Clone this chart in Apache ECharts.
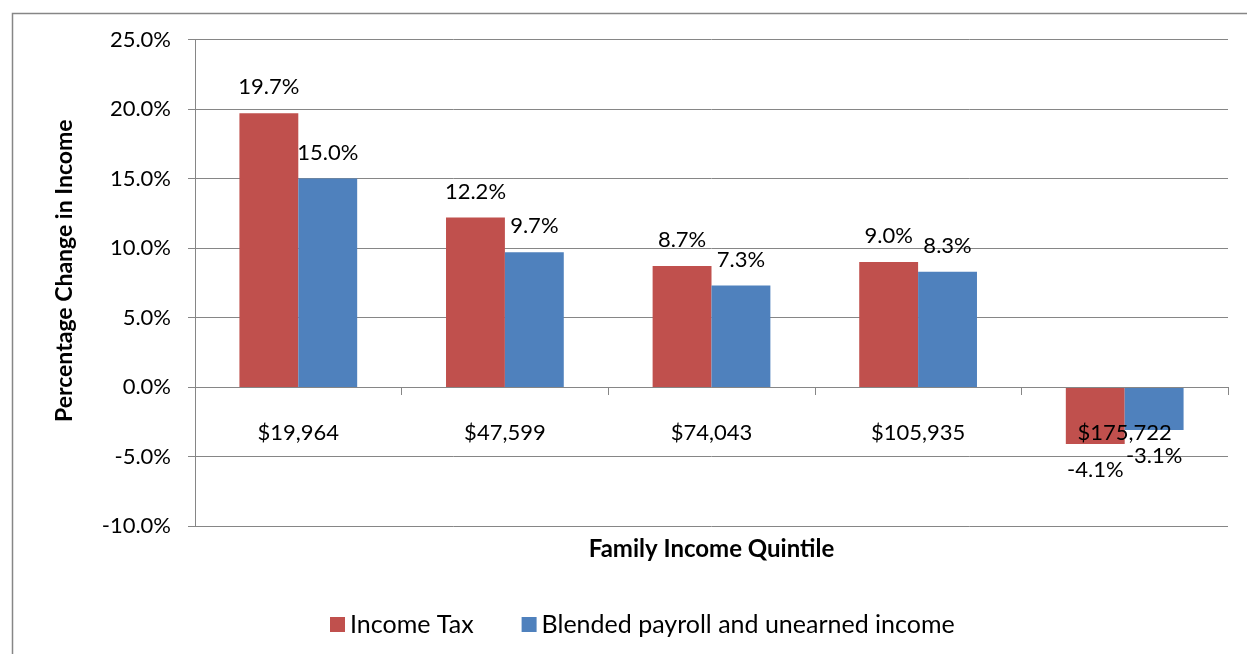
<!DOCTYPE html>
<html>
<head>
<meta charset="utf-8">
<script src="https://cdn.jsdelivr.net/npm/echarts@6/dist/echarts.min.js"></script>
<style>
  html, body { margin: 0; padding: 0; background: #fff; }
  #chart { width: 1247px; height: 654px; }
</style>
</head>
<body>
<div id="chart"></div>
<script>
var quintiles = ['$19,964', '$47,599', '$74,043', '$105,935', '$175,722'];
var incomeTax = [19.7, 12.2, 8.7, 9.0, -4.1];
var blended = [15.0, 9.7, 7.3, 8.3, -3.1];
var seriesNames = ['Income Tax', 'Blended payroll and unearned income'];

var FONT = 'Lato';
var GRAY = '#868686';

function barData(values) {
  // labels go above positive bars and below negative ones
  return values.map(function (v) {
    return {
      value: v,
      label: { position: v < 0 ? 'bottom' : 'top' }
    };
  });
}

function pct(v) { return v.toFixed(1) + '%'; }

var chart = echarts.init(document.getElementById('chart'));

var option = {
  animation: false,
  textStyle: { fontFamily: FONT },
  color: ['#C0504D', '#4F81BD'],
  grid: {
    left: 195,
    right: 19,
    top: 39.5,
    bottom: 128,
    containLabel: false,
    outerBoundsMode: 'none'
  },
  graphic: [
    {
      type: 'rect',
      left: 10,
      top: 11,
      shape: { width: 1300, height: 700 },
      style: { fill: 'none', stroke: GRAY, lineWidth: 1.5 },
      silent: true
    }
  ],
  legend: {
    data: seriesNames,
    left: 325,
    top: 607,
    icon: 'rect',
    itemWidth: 15,
    itemHeight: 15,
    itemGap: 48,
    itemTextGap: 7,
    textStyle: { fontFamily: FONT, fontSize: 25, color: '#000' }
  },
  xAxis: {
    type: 'category',
    data: quintiles,
    name: 'Family Income Quintile',
    nameLocation: 'middle',
    nameGap: 11,
    nameTextStyle: { fontFamily: FONT, fontSize: 24, fontWeight: 'bold', color: '#000' },
    axisLine: { onZero: true, lineStyle: { color: GRAY, width: 1 } },
    axisTick: { show: true, length: 8, lineStyle: { color: GRAY } },
    axisLabel: { margin: -104, fontSize: 22, color: '#000', fontFamily: FONT },
    z: 10
  },
  yAxis: {
    type: 'value',
    min: -10,
    max: 25,
    interval: 5,
    name: 'Percentage Change in Income',
    nameLocation: 'middle',
    nameGap: 119,
    nameTextStyle: {
      fontFamily: FONT,
      fontSize: 23,
      fontWeight: 'bold',
      color: '#000',
      padding: [0, 0, 0, 24]
    },
    axisLine: { show: true, lineStyle: { color: GRAY, width: 1 } },
    axisTick: { show: true, length: 7, lineStyle: { color: GRAY } },
    axisLabel: {
      margin: 24,
      fontSize: 22,
      color: '#000',
      fontFamily: FONT,
      formatter: pct
    },
    splitLine: { show: true, lineStyle: { color: GRAY, width: 1 } }
  },
  series: [
    {
      name: seriesNames[0],
      type: 'bar',
      data: barData(incomeTax),
      barGap: 0,
      barCategoryGap: '43%',
      label: {
        show: true,
        distance: 15,
        fontSize: 22,
        color: '#000',
        fontFamily: FONT,
        formatter: function (p) { return pct(p.value); }
      }
    },
    {
      name: seriesNames[1],
      type: 'bar',
      data: barData(blended),
      barGap: 0,
      barCategoryGap: '43%',
      label: {
        show: true,
        distance: 15,
        fontSize: 22,
        color: '#000',
        fontFamily: FONT,
        formatter: function (p) { return pct(p.value); }
      }
    }
  ]
};

chart.setOption(option);
</script>
</body>
</html>
